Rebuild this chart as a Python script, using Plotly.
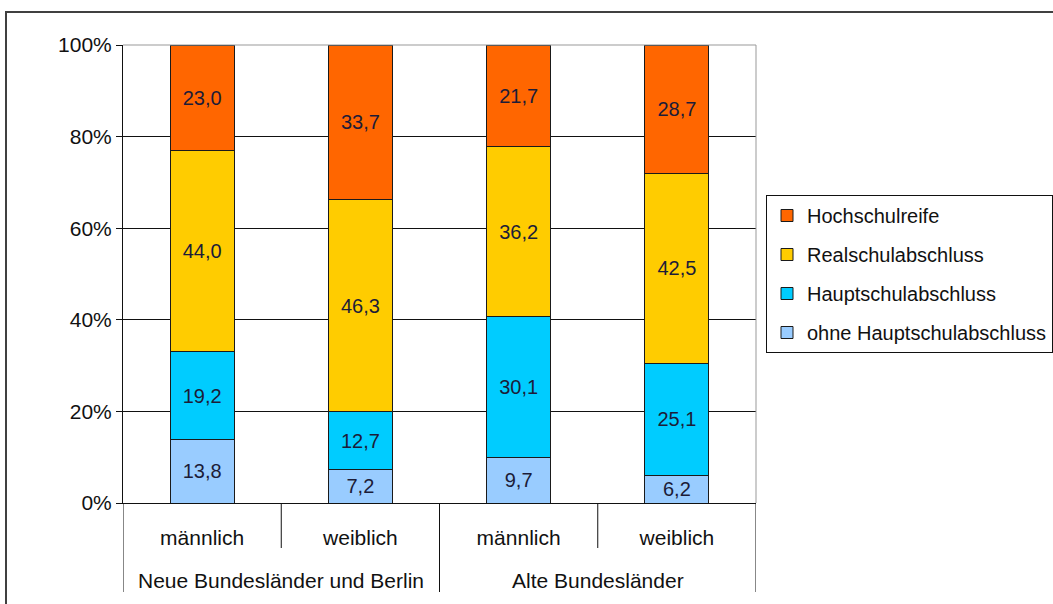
import plotly.graph_objects as go

region_names = ["Neue Bundesländer und Berlin", "Alte Bundesländer"]
regions = ["Neue Bundesländer und Berlin", "Neue Bundesländer und Berlin",
           "Alte Bundesländer", "Alte Bundesländer"]
genders = ["männlich", "weiblich", "männlich", "weiblich"]

ohne_haupt = [13.8, 7.2, 9.7, 6.2]
haupt = [19.2, 12.7, 30.1, 25.1]
real = [44.0, 46.3, 36.2, 42.5]
hochschul = [23.0, 33.7, 21.7, 28.7]

series = [
    ("ohne Hauptschulabschluss", ohne_haupt, "#99CCFF", 4),
    ("Hauptschulabschluss", haupt, "#00CCFF", 3),
    ("Realschulabschluss", real, "#FFCC00", 2),
    ("Hochschulreife", hochschul, "#FF6600", 1),
]

W, H = 1053, 604
L, R, T, B = 123, 297, 45, 101
pw, ph = W - L - R, H - T - B

def px(x):
    return (x - L) / pw

def py(y):
    return (H - B - y) / ph

font = "Liberation Sans, Arial, sans-serif"
FS = 21
xpos = list(range(len(genders)))

fig = go.Figure()
for name, vals, col, rank in series:
    fig.add_trace(go.Bar(
        x=xpos, y=vals, name=name, legendgroup=name, legendrank=rank,
        customdata=regions,
        marker=dict(color=col, line=dict(color="#1a1a1a", width=1)),
        text=[f"{v:.1f}".replace(".", ",") for v in vals],
        textposition="inside", insidetextanchor="middle",
        textfont=dict(color="#1c1c38", size=20, family=font),
        constraintext="none",
    ))

shapes = [
    # outer chart border
    dict(type="rect", xref="paper", yref="paper",
         x0=px(6), x1=px(1064), y0=py(616), y1=py(12),
         line=dict(color="#404040", width=2), layer="below"),
    # plot-area border (top & right gray)
    dict(type="line", xref="paper", yref="paper", x0=0, x1=1, y0=1, y1=1,
         line=dict(color="#999999", width=1)),
    dict(type="line", xref="paper", yref="paper", x0=1, x1=1, y0=0, y1=1,
         line=dict(color="#999999", width=1)),
]
# short dividers between genders inside each region
for xv in [0.5, 2.5]:
    shapes.append(dict(type="line", xref="x", yref="paper", x0=xv, x1=xv,
                       y0=py(548), y1=0, line=dict(color="#111111", width=1)))
# long dividers at region boundaries
for xv in [-0.5, 1.5, 3.5]:
    shapes.append(dict(type="line", xref="x", yref="paper", x0=xv, x1=xv,
                       y0=py(592), y1=0, line=dict(color="#111111", width=1)))

annotations = []
for i, rn in enumerate(region_names):
    annotations.append(dict(
        text=rn, xref="x", yref="paper", x=2 * i + 0.5, y=py(580),
        showarrow=False, xanchor="center", yanchor="middle",
        font=dict(size=FS, family=font, color="#111111"),
    ))

fig.update_layout(
    width=W, height=H,
    barmode="stack", barnorm="percent", bargap=0.595,
    margin=dict(l=L, r=R, t=T, b=B, autoexpand=False),
    paper_bgcolor="white", plot_bgcolor="white",
    font=dict(family=font, size=FS, color="#111111"),
    legend=dict(
        x=px(766), y=py(195), xanchor="left", yanchor="top",
        traceorder="grouped", tracegroupgap=10,
        bordercolor="#111111", borderwidth=1, bgcolor="white",
        font=dict(size=20, family=font, color="#111111"),
    ),
    xaxis=dict(
        range=[-0.5, 3.5], tickvals=xpos, ticktext=genders,
        showline=True, linecolor="#111111", linewidth=1,
        ticks="outside", ticklen=16, tickcolor="rgba(0,0,0,0)",
        showgrid=False, zeroline=False,
        tickfont=dict(size=FS, family=font, color="#111111"),
    ),
    yaxis=dict(
        range=[0, 100], dtick=20, ticksuffix="%",
        showline=True, linecolor="#111111", linewidth=1,
        ticks="outside", ticklen=6, tickcolor="#111111",
        showgrid=True, gridcolor="#111111", gridwidth=1,
        zeroline=False,
        tickfont=dict(size=FS, family=font, color="#111111"),
    ),
    shapes=shapes,
    annotations=annotations,
)

fig.write_html("out.html", config={"displayModeBar": False},
               post_script="document.body.style.margin='0';document.body.style.overflow='hidden';")
